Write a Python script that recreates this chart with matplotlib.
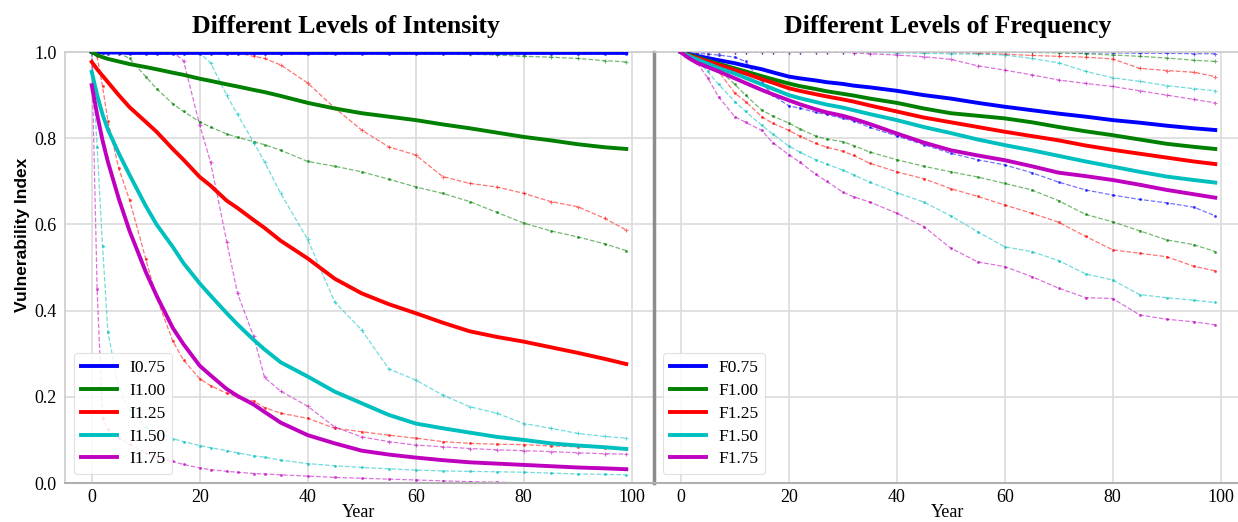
import matplotlib
matplotlib.use("Agg")
import matplotlib.pyplot as plt

# sample years (denser where the curves drop fast)
years = [0, 1, 2, 3, 5, 7, 10, 12, 15, 17, 20, 22, 25, 27, 30, 32, 35, 40, 45,
         50, 55, 60, 65, 70, 75, 80, 85, 90, 95, 99]

# ---------------- Intensity panel ----------------
int_labels = ['I0.75', 'I1.00', 'I1.25', 'I1.50', 'I1.75']

i075_mean = [1.0, 0.999, 0.999, 0.999, 0.999, 0.998, 0.998, 0.998, 0.998, 0.998,
             0.998, 0.998, 0.998, 0.998, 0.998, 0.998, 0.998, 0.998, 0.998, 0.998,
             0.998, 0.998, 0.998, 0.998, 0.998, 0.998, 0.998, 0.998, 0.998, 0.998]
i075_upper = [1.0, 1.0, 1.0, 1.0, 1.0, 1.0, 1.0, 1.0, 1.0, 1.0,
              1.0, 1.0, 1.0, 1.0, 1.0, 1.0, 1.0, 1.0, 1.0, 1.0,
              1.0, 1.0, 1.0, 1.0, 1.0, 1.0, 1.0, 1.0, 1.0, 1.0]
i075_lower = [1.0, 0.998, 0.997, 0.996, 0.996, 0.995, 0.995, 0.995, 0.995, 0.995,
              0.995, 0.995, 0.995, 0.995, 0.995, 0.995, 0.995, 0.995, 0.995, 0.995,
              0.995, 0.995, 0.995, 0.995, 0.995, 0.995, 0.995, 0.995, 0.995, 0.995]

i100_mean = [1.0, 0.993, 0.988, 0.984, 0.978, 0.972, 0.965, 0.96, 0.952, 0.947,
             0.938, 0.933, 0.925, 0.92, 0.912, 0.907, 0.898, 0.882, 0.869, 0.858,
             0.85, 0.842, 0.832, 0.823, 0.813, 0.803, 0.795, 0.786, 0.779, 0.775]
i100_upper = [1.0, 1.0, 1.0, 1.0, 1.0, 1.0, 1.0, 1.0, 1.0, 1.0,
              1.0, 1.0, 1.0, 1.0, 1.0, 1.0, 1.0, 1.0, 1.0, 1.0,
              1.0, 0.999, 0.997, 0.995, 0.993, 0.99, 0.988, 0.985, 0.98, 0.977]
i100_lower = [1.0, 1.0, 1.0, 1.0, 0.998, 0.985, 0.943, 0.915, 0.88, 0.862,
              0.838, 0.826, 0.81, 0.802, 0.792, 0.785, 0.772, 0.746, 0.735, 0.722,
              0.705, 0.687, 0.672, 0.653, 0.628, 0.603, 0.585, 0.571, 0.555, 0.539]

i125_mean = [0.977, 0.96, 0.945, 0.93, 0.9, 0.872, 0.838, 0.815, 0.775, 0.75,
             0.71, 0.69, 0.655, 0.638, 0.61, 0.592, 0.562, 0.521, 0.474, 0.44,
             0.415, 0.394, 0.372, 0.352, 0.339, 0.328, 0.315, 0.302, 0.288, 0.276]
i125_upper = [1.0, 1.0, 1.0, 1.0, 1.0, 1.0, 1.0, 1.0, 1.0, 1.0,
              1.0, 1.0, 1.0, 0.998, 0.99, 0.985, 0.97, 0.928, 0.87, 0.819,
              0.78, 0.761, 0.711, 0.695, 0.687, 0.672, 0.653, 0.641, 0.614, 0.587]
i125_lower = [1.0, 0.99, 0.92, 0.84, 0.73, 0.657, 0.52, 0.43, 0.33, 0.285,
              0.242, 0.226, 0.208, 0.2, 0.19, 0.175, 0.162, 0.15, 0.127, 0.119,
              0.111, 0.104, 0.096, 0.092, 0.09, 0.089, 0.086, 0.084, 0.082, 0.08]

i150_mean = [0.954, 0.9, 0.855, 0.82, 0.765, 0.715, 0.643, 0.6, 0.548, 0.51,
             0.463, 0.435, 0.394, 0.368, 0.332, 0.31, 0.28, 0.247, 0.212, 0.185,
             0.158, 0.138, 0.127, 0.117, 0.107, 0.1, 0.092, 0.087, 0.083, 0.079]
i150_upper = [1.0, 1.0, 1.0, 1.0, 1.0, 1.0, 1.0, 1.0, 1.0, 1.0,
              0.997, 0.975, 0.9, 0.855, 0.79, 0.745, 0.672, 0.565, 0.42, 0.355,
              0.265, 0.239, 0.204, 0.177, 0.162, 0.138, 0.127, 0.115, 0.108, 0.104]
i150_lower = [1.0, 0.78, 0.55, 0.35, 0.22, 0.17, 0.13, 0.117, 0.103, 0.096,
              0.087, 0.082, 0.075, 0.07, 0.063, 0.06, 0.053, 0.045, 0.04, 0.036,
              0.033, 0.03, 0.028, 0.027, 0.026, 0.025, 0.023, 0.021, 0.02, 0.019]

i175_mean = [0.923, 0.855, 0.795, 0.745, 0.66, 0.585, 0.49, 0.435, 0.36, 0.322,
             0.272, 0.25, 0.218, 0.202, 0.182, 0.165, 0.14, 0.111, 0.092, 0.075,
             0.066, 0.059, 0.053, 0.048, 0.045, 0.042, 0.039, 0.036, 0.034, 0.032]
i175_upper = [1.0, 1.0, 1.0, 1.0, 1.0, 1.0, 1.0, 1.0, 1.0, 0.98,
              0.83, 0.745, 0.56, 0.44, 0.34, 0.245, 0.213, 0.178, 0.13, 0.107,
              0.096, 0.088, 0.084, 0.08, 0.077, 0.075, 0.073, 0.07, 0.068, 0.067]
i175_lower = [1.0, 0.45, 0.15, 0.125, 0.105, 0.09, 0.07, 0.06, 0.05, 0.043,
              0.035, 0.031, 0.027, 0.025, 0.022, 0.021, 0.019, 0.016, 0.013, 0.011,
              0.009, 0.007, 0.005, 0.003, 0.002, 0.0, 0.0, 0.0, 0.0, 0.0]

# ---------------- Frequency panel ----------------
freq_labels = ['F0.75', 'F1.00', 'F1.25', 'F1.50', 'F1.75']

f075_mean = [1.0, 0.997, 0.994, 0.991, 0.986, 0.981, 0.974, 0.968, 0.96, 0.953,
             0.943, 0.939, 0.934, 0.93, 0.926, 0.922, 0.918, 0.91, 0.9, 0.892,
             0.882, 0.873, 0.865, 0.857, 0.85, 0.842, 0.836, 0.829, 0.823, 0.819]
f075_upper = [1.0, 1.0, 1.0, 1.0, 1.0, 1.0, 1.0, 1.0, 1.0, 1.0,
              1.0, 1.0, 1.0, 1.0, 1.0, 1.0, 1.0, 1.0, 1.0, 1.0,
              1.0, 1.0, 0.999, 0.999, 0.998, 0.998, 0.997, 0.997, 0.996, 0.996]
f075_lower = [1.0, 0.999, 0.998, 0.997, 0.995, 0.993, 0.988, 0.978, 0.93, 0.9,
              0.875, 0.87, 0.86, 0.855, 0.846, 0.84, 0.825, 0.805, 0.785, 0.765,
              0.75, 0.738, 0.72, 0.698, 0.68, 0.668, 0.658, 0.65, 0.64, 0.62]

f100_mean = [1.0, 0.996, 0.992, 0.988, 0.98, 0.973, 0.962, 0.955, 0.944, 0.937,
             0.927, 0.921, 0.914, 0.909, 0.903, 0.899, 0.892, 0.882, 0.869, 0.858,
             0.852, 0.846, 0.837, 0.826, 0.816, 0.807, 0.797, 0.787, 0.78, 0.775]
f100_upper = [1.0, 1.0, 1.0, 1.0, 1.0, 1.0, 1.0, 1.0, 1.0, 1.0,
              1.0, 1.0, 1.0, 1.0, 1.0, 1.0, 1.0, 1.0, 1.0, 1.0,
              1.0, 1.0, 0.999, 0.998, 0.996, 0.993, 0.99, 0.986, 0.981, 0.978]
f100_lower = [1.0, 0.998, 0.995, 0.99, 0.98, 0.96, 0.925, 0.9, 0.865, 0.852,
              0.835, 0.822, 0.805, 0.798, 0.792, 0.783, 0.768, 0.75, 0.735, 0.722,
              0.71, 0.695, 0.68, 0.655, 0.623, 0.606, 0.585, 0.564, 0.553, 0.537]

f125_mean = [1.0, 0.995, 0.99, 0.986, 0.978, 0.97, 0.958, 0.95, 0.937, 0.929,
             0.916, 0.91, 0.902, 0.897, 0.89, 0.885, 0.876, 0.862, 0.848, 0.837,
             0.826, 0.815, 0.805, 0.795, 0.783, 0.773, 0.764, 0.755, 0.746, 0.74]
f125_upper = [1.0, 1.0, 1.0, 1.0, 1.0, 1.0, 1.0, 1.0, 1.0, 1.0,
              1.0, 1.0, 1.0, 1.0, 1.0, 1.0, 1.0, 1.0, 1.0, 0.999,
              0.997, 0.995, 0.992, 0.99, 0.988, 0.984, 0.962, 0.957, 0.953, 0.943]
f125_lower = [1.0, 0.998, 0.995, 0.99, 0.975, 0.955, 0.905, 0.885, 0.85, 0.835,
              0.818, 0.805, 0.788, 0.779, 0.77, 0.76, 0.742, 0.722, 0.706, 0.683,
              0.665, 0.645, 0.626, 0.605, 0.572, 0.541, 0.533, 0.525, 0.503, 0.492]

f150_mean = [1.0, 0.994, 0.988, 0.983, 0.973, 0.963, 0.95, 0.94, 0.925, 0.915,
             0.9, 0.893, 0.884, 0.878, 0.871, 0.865, 0.856, 0.842, 0.826, 0.812,
             0.797, 0.784, 0.772, 0.759, 0.746, 0.734, 0.722, 0.711, 0.703, 0.697]
f150_upper = [1.0, 1.0, 1.0, 1.0, 1.0, 1.0, 1.0, 1.0, 1.0, 1.0,
              1.0, 1.0, 1.0, 1.0, 1.0, 0.999, 0.999, 0.998, 0.997, 0.996,
              0.995, 0.993, 0.985, 0.975, 0.955, 0.94, 0.932, 0.922, 0.915, 0.91]
f150_lower = [1.0, 0.995, 0.988, 0.98, 0.955, 0.925, 0.885, 0.862, 0.83, 0.81,
              0.782, 0.768, 0.75, 0.74, 0.726, 0.715, 0.698, 0.674, 0.652, 0.62,
              0.583, 0.548, 0.537, 0.516, 0.485, 0.471, 0.437, 0.43, 0.424, 0.419]

f175_mean = [1.0, 0.99, 0.982, 0.975, 0.965, 0.955, 0.939, 0.928, 0.912, 0.902,
             0.888, 0.879, 0.867, 0.86, 0.852, 0.845, 0.833, 0.811, 0.79, 0.772,
             0.76, 0.749, 0.735, 0.72, 0.712, 0.703, 0.692, 0.68, 0.67, 0.662]
f175_upper = [1.0, 1.0, 1.0, 1.0, 1.0, 1.0, 1.0, 1.0, 1.0, 1.0,
              1.0, 1.0, 1.0, 1.0, 1.0, 0.998, 0.996, 0.993, 0.989, 0.983,
              0.968, 0.958, 0.947, 0.935, 0.927, 0.92, 0.91, 0.9, 0.89, 0.882]
f175_lower = [1.0, 0.993, 0.985, 0.975, 0.94, 0.896, 0.85, 0.837, 0.818, 0.79,
              0.762, 0.745, 0.716, 0.7, 0.675, 0.664, 0.652, 0.626, 0.595, 0.545,
              0.513, 0.502, 0.479, 0.452, 0.43, 0.428, 0.39, 0.38, 0.374, 0.367]

colors = ['b', 'g', 'r', 'c', 'm']

serif = ['Liberation Serif', 'DejaVu Serif']
sans = ['Liberation Sans', 'DejaVu Sans']


def draw_panel(ax, labels, means, uppers, lowers, title, title_x):
    # thin percentile lines first, mean curves on top
    for up, lo, c in zip(uppers, lowers, colors):
        ax.plot(years, up, color=c, lw=0.9, ls='--', marker='+', ms=3.5,
                mew=0.8, alpha=0.55, zorder=2)
        ax.plot(years, lo, color=c, lw=0.9, ls='--', marker='.', ms=2.5,
                alpha=0.55, zorder=2)
    for m, c, lab in zip(means, colors, labels):
        ax.plot(years, m, color=c, lw=2.8, label=lab, zorder=3)

    ax.set_xlim(-4.95, 103.95)
    ax.set_ylim(0, 1.0)
    ax.set_xticks([0, 20, 40, 60, 80, 100])
    ax.set_yticks([0.0, 0.2, 0.4, 0.6, 0.8, 1.0])
    ax.grid(True, color='#dcdcdc', lw=1.2)
    ax.set_axisbelow(True)
    ax.tick_params(length=0, labelsize=13)
    ax.tick_params(axis='x', pad=4)
    ax.tick_params(axis='y', pad=6)
    for t in ax.get_xticklabels() + ax.get_yticklabels():
        t.set_fontfamily(serif)
    ax.set_xlabel('Year', fontsize=13, family=serif, labelpad=-1)
    ax.set_title(title, fontsize=18.5, fontweight='bold', family=serif,
                 x=title_x, pad=14)
    for s in ['top', 'left', 'right']:
        ax.spines[s].set_color('#cccccc')
        ax.spines[s].set_linewidth(1.2)
    ax.spines['bottom'].set_color('#b0b0b0')
    ax.spines['bottom'].set_linewidth(1.5)
    leg = ax.legend(loc='lower left', prop={'family': serif, 'size': 12.5},
                    handlelength=2.1, handletextpad=0.7, borderaxespad=0.5,
                    labelspacing=0.38, framealpha=0.85, edgecolor='#dddddd',
                    fancybox=True)
    leg.get_frame().set_linewidth(0.8)


fig = plt.figure(figsize=(12.38, 5.22), dpi=100)
ax1 = fig.add_axes([65 / 1238, 39 / 522, 588 / 1238, 431 / 522])
ax2 = fig.add_axes([654 / 1238, 39 / 522, 588 / 1238, 431 / 522])

draw_panel(ax1, int_labels,
           [i075_mean, i100_mean, i125_mean, i150_mean, i175_mean],
           [i075_upper, i100_upper, i125_upper, i150_upper, i175_upper],
           [i075_lower, i100_lower, i125_lower, i150_lower, i175_lower],
           'Different Levels of Intensity', 0.478)
draw_panel(ax2, freq_labels,
           [f075_mean, f100_mean, f125_mean, f150_mean, f175_mean],
           [f075_upper, f100_upper, f125_upper, f150_upper, f175_upper],
           [f075_lower, f100_lower, f125_lower, f150_lower, f175_lower],
           'Different Levels of Frequency', 0.5)

ax1.set_ylabel('Vulnerability Index', fontsize=12.5, fontweight='bold',
               family=sans)
ax1.yaxis.set_label_coords(-0.06, 0.575)
ax1.spines['right'].set_visible(False)

ax2.tick_params(axis='y', labelleft=False)
ax2.spines['left'].set_color('#8c8c8c')
ax2.spines['left'].set_linewidth(2.5)

fig.savefig('out.png', dpi=100)
print("saved out.png")
